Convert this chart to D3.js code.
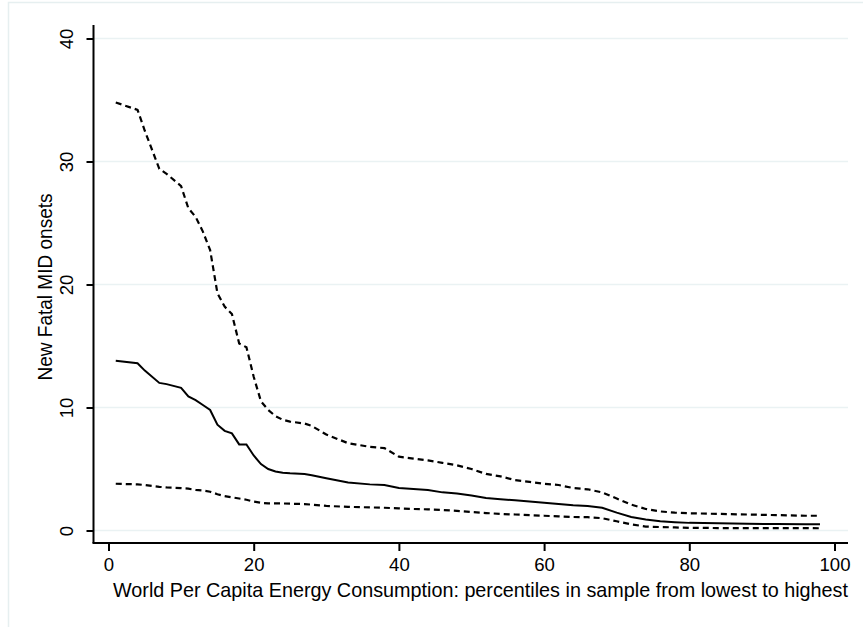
<!DOCTYPE html>
<html>
<head>
<meta charset="utf-8">
<script src="https://cdn.jsdelivr.net/npm/d3@7"></script>
<style>
  body { margin: 0; background: #fff; }
  text { font-family: "Liberation Sans", Arial, Helvetica, sans-serif; fill: #000; }
</style>
</head>
<body>
<svg id="chart" width="863" height="627"></svg>
<script>
// percentiles (x) and the three curves
var pct = [1,4,5,7,8,10,11,12,13,14,15,16,17,18,19,20,21,22,23,24,25,27,28,30,33,36,38,40,42,44,46,48,50,52,54,56,58,60,62,64,66,68,70,72,74,76,78,80,84,88,92,96,98];
var upper = [34.8,34.2,32.5,29.4,29.0,28.0,26.2,25.5,24.3,22.8,19.3,18.2,17.6,15.2,14.9,12.5,10.5,9.8,9.3,9.0,8.85,8.7,8.5,7.8,7.1,6.8,6.7,6.0,5.85,5.7,5.5,5.3,5.0,4.6,4.4,4.1,3.95,3.8,3.7,3.45,3.35,3.1,2.6,2.1,1.75,1.55,1.45,1.4,1.35,1.3,1.25,1.2,1.2];
var mean = [13.8,13.6,13.0,12.0,11.9,11.6,10.9,10.6,10.2,9.8,8.6,8.1,7.9,7.0,7.0,6.1,5.4,5.0,4.8,4.7,4.65,4.6,4.5,4.25,3.9,3.75,3.7,3.45,3.38,3.3,3.1,3.0,2.85,2.65,2.55,2.45,2.35,2.25,2.15,2.05,2.0,1.85,1.45,1.1,0.9,0.75,0.68,0.62,0.58,0.55,0.52,0.5,0.5];
var lower = [3.8,3.75,3.7,3.55,3.5,3.45,3.4,3.3,3.25,3.15,2.95,2.8,2.7,2.6,2.5,2.35,2.25,2.2,2.2,2.2,2.18,2.15,2.1,2.0,1.92,1.88,1.85,1.8,1.75,1.72,1.67,1.6,1.5,1.42,1.35,1.3,1.25,1.2,1.15,1.1,1.08,1.0,0.75,0.5,0.32,0.28,0.25,0.22,0.2,0.2,0.2,0.2,0.18];

var xTicks = [0,20,40,60,80,100];
var yTicks = [0,10,20,30,40];

var svg = d3.select("#chart");

// outer frame
svg.append("rect")
    .attr("x", 8.5).attr("y", 2.5)
    .attr("width", 900).attr("height", 700)
    .attr("fill", "none")
    .attr("stroke", "#e6eff0")
    .attr("stroke-width", 1.5);

var x = d3.scaleLinear().domain([0,100]).range([108.5, 834.5]);
var y = d3.scaleLinear().domain([0,40]).range([530.5, 38.5]);

var plotLeft = 93.5, plotRight = 848, plotBottom = 543;

// gridlines
svg.selectAll(".grid")
    .data(yTicks)
    .enter().append("line")
    .attr("class", "grid")
    .attr("x1", plotLeft).attr("x2", plotRight)
    .attr("y1", function(d){ return y(d); })
    .attr("y2", function(d){ return y(d); })
    .attr("stroke", "#eaf2f3")
    .attr("stroke-width", 1.6);

// y axis
var yAxis = svg.append("g")
    .attr("transform", "translate(" + plotLeft + ",0)")
    .call(d3.axisLeft(y).tickValues(yTicks).tickSize(7).tickPadding(8).tickSizeOuter(0));
yAxis.select(".domain").attr("d", "M0,25V" + plotBottom).attr("stroke-width", 2);
yAxis.selectAll(".tick line").attr("stroke-width", 2);
yAxis.selectAll(".tick text")
    .attr("font-size", 18.6)
    .attr("font-family", "Liberation Sans, Arial, sans-serif")
    .attr("text-anchor", "middle")
    .attr("x", 0).attr("dy", 0)
    .attr("transform", "translate(-20.5,0) rotate(-90)");

// x axis
var xAxis = svg.append("g")
    .attr("transform", "translate(0," + plotBottom + ")")
    .call(d3.axisBottom(x).tickValues(xTicks).tickSize(8).tickPadding(6).tickSizeOuter(0));
xAxis.select(".domain").attr("d", "M" + (plotLeft - 1) + ",0H" + plotRight).attr("stroke-width", 2);
xAxis.selectAll(".tick line").attr("stroke-width", 2);
xAxis.selectAll(".tick text")
    .attr("font-size", 18.6)
    .attr("font-family", "Liberation Sans, Arial, sans-serif")
    .attr("dy", 0).attr("y", 28);

// axis titles
svg.append("text")
    .attr("x", 480.5)
    .attr("y", 597)
    .attr("text-anchor", "middle")
    .attr("font-size", 19.8)
    .attr("textLength", 735)
    .attr("lengthAdjust", "spacingAndGlyphs")
    .text("World Per Capita Energy Consumption: percentiles in sample from lowest to highest");

svg.append("text")
    .attr("transform", "translate(52,287) rotate(-90)")
    .attr("text-anchor", "middle")
    .attr("font-size", 19.8)
    .attr("textLength", 187)
    .attr("lengthAdjust", "spacingAndGlyphs")
    .text("New Fatal MID onsets");

// curves
var line = function(vals) {
  return d3.line()
    .x(function(d, i){ return x(pct[i]); })
    .y(function(d){ return y(d); })(vals);
};

svg.append("path").attr("d", line(upper))
    .attr("fill", "none").attr("stroke", "#000")
    .attr("stroke-width", 2.2).attr("stroke-dasharray", "6,4");
svg.append("path").attr("d", line(lower))
    .attr("fill", "none").attr("stroke", "#000")
    .attr("stroke-width", 2.2).attr("stroke-dasharray", "6,4");
svg.append("path").attr("d", line(mean))
    .attr("fill", "none").attr("stroke", "#000")
    .attr("stroke-width", 2);
</script>
</body>
</html>
